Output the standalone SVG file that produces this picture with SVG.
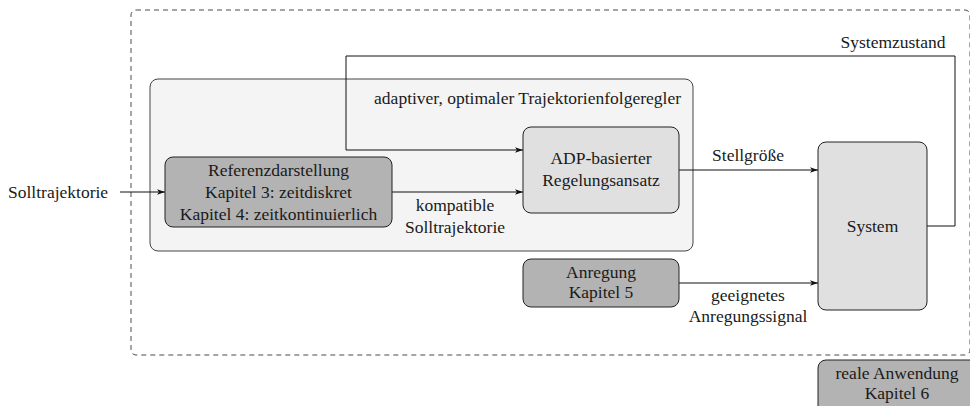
<svg xmlns="http://www.w3.org/2000/svg" width="970" height="406" viewBox="0 0 970 406">
<style>
text{font-family:"Liberation Serif","DejaVu Serif",serif;font-size:17.5px;fill:#1a1a1a}
.c{text-anchor:middle}
.box{stroke:#222;stroke-width:1}
.dark{fill:#b3b3b3}
.light{fill:#e0e0e0}
.conn{fill:none;stroke:#111;stroke-width:1}
</style>
<defs>
<marker id="ah" viewBox="0 0 10 10" refX="10" refY="5" markerWidth="8" markerHeight="8" markerUnits="userSpaceOnUse" orient="auto">
<path d="M0,1.5 L10,5 L0,8.5 L2.5,5 Z" fill="#111"/>
</marker>
</defs>
<g id="real">
<rect x="131" y="10" width="839" height="345" rx="5" fill="none" stroke="#4a4a4a" stroke-width="1" stroke-dasharray="5,4"/>
</g>
<g id="regler">
<rect x="150" y="79" width="543" height="172" rx="8" fill="#f4f4f4" stroke="#444" stroke-width="1"/>
<text x="681" y="104" text-anchor="end">adaptiver, optimaler Trajektorienfolgeregler</text>
</g>
<g id="connectors">
<path class="conn" d="M120,192 H165" marker-end="url(#ah)"/>
<path class="conn" d="M392,192 H523" marker-end="url(#ah)"/>
<path class="conn" d="M927,226 H955 V56 H346 V150 H523" marker-end="url(#ah)"/>
<path class="conn" d="M679,170 H818" marker-end="url(#ah)"/>
<path class="conn" d="M679,283 H818" marker-end="url(#ah)"/>
<text x="8" y="198">Solltrajektorie</text>
<text class="c" x="455" y="211">kompatible</text>
<text class="c" x="455" y="233">Solltrajektorie</text>
<text class="c" x="748" y="161">Stellgröße</text>
<text class="c" x="893" y="48">Systemzustand</text>
<text class="c" x="748" y="301">geeignetes</text>
<text class="c" x="748" y="322">Anregungssignal</text>
</g>
<g id="referenz">
<rect class="box dark" x="165" y="157" width="227" height="70" rx="8"/>
<text class="c" x="278.5" y="176">Referenzdarstellung</text>
<text class="c" x="278.5" y="198">Kapitel 3: zeitdiskret</text>
<text class="c" x="278.5" y="220">Kapitel 4: zeitkontinuierlich</text>
</g>
<g id="adp">
<rect class="box light" x="523" y="127" width="156" height="86" rx="8"/>
<text class="c" x="601" y="164">ADP-basierter</text>
<text class="c" x="601" y="186">Regelungsansatz</text>
</g>
<g id="system">
<rect class="box light" x="818" y="142" width="109" height="168" rx="8"/>
<text class="c" x="872.5" y="232">System</text>
</g>
<g id="anregung">
<rect class="box dark" x="523" y="259" width="156" height="48" rx="8"/>
<text class="c" x="601" y="278">Anregung</text>
<text class="c" x="601" y="298">Kapitel 5</text>
</g>
<g id="anwendung">
<rect class="box dark" x="818" y="360" width="160" height="60" rx="8"/>
<text class="c" x="897" y="379">reale Anwendung</text>
<text class="c" x="897" y="399">Kapitel 6</text>
</g>
</svg>
